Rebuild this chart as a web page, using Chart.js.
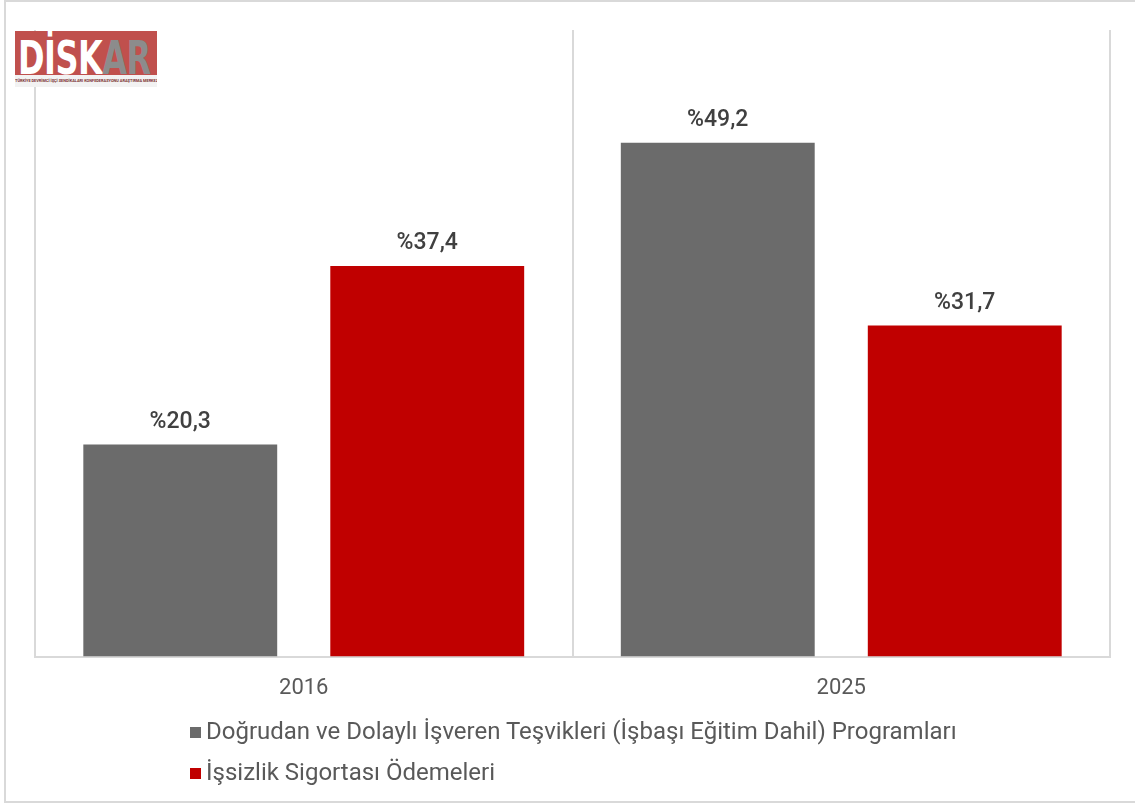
<!DOCTYPE html>
<html>
<head>
<meta charset="utf-8">
<script src="https://cdn.jsdelivr.net/npm/chart.js@4.4.1/dist/chart.umd.min.js"></script>
<style>
  html,body{margin:0;padding:0;background:#fff;}
  body{width:1135px;height:803px;position:relative;overflow:hidden;font-family:Roboto, "DejaVu Sans", sans-serif;}
  #frame{position:absolute;left:4px;top:0;width:1200px;height:799px;border-left:2px solid #d9d9d9;border-top:2px solid #d9d9d9;border-bottom:2px solid #d9d9d9;box-sizing:content-box;}
  #wrap{position:absolute;left:0;top:0;width:1135px;height:803px;}
  #logo{position:absolute;left:15px;top:31px;width:142px;height:56px;}
  #logo .top{height:44px;background:#c0504d;position:relative;overflow:hidden;}
  #logo .txt{position:absolute;left:3px;top:-5px;font-family:"DejaVu Sans", sans-serif;font-weight:bold;font-size:32px;color:#fff;letter-spacing:-0.5px;line-height:44px;transform:scale(1,1.45);transform-origin:left top;}
  #logo .txt span{color:#8c8c8c;}
  #logo .bot{height:12px;background:#f2f2f2;font-size:3.9px;color:#7a3030;line-height:12px;text-align:center;font-weight:bold;white-space:nowrap;overflow:hidden;}
  #legend{position:absolute;left:190px;top:710px;}
  .li{display:flex;align-items:center;height:41px;font-size:24px;color:#595959;}
  .sw{width:11px;height:11px;margin-right:5px;margin-top:3px;}
</style>
</head>
<body>
<div id="frame"></div>
<div id="wrap"><canvas id="c" width="1135" height="803"></canvas></div>
<div id="logo"><div class="top"><div class="txt">DİSK<span>AR</span></div></div><div class="bot">TÜRKİYE DEVRİMCİ İŞÇİ SENDİKALARI KONFEDERASYONU ARAŞTIRMA MERKEZİ</div></div>
<div id="legend"></div>
<script>
const categories = ["2016", "2025"];
const seriesNames = ["Doğrudan ve Dolaylı İşveren Teşvikleri (İşbaşı Eğitim Dahil) Programları", "İşsizlik Sigortası Ödemeleri"];
const tesvikValues = [20.3, 49.2];
const sigortaValues = [37.4, 31.7];
const seriesColors = ["#6b6b6b", "#c00000"];

const labelPlugin = {
  id: 'valueLabels',
  afterDatasetsDraw(chart) {
    const ctx = chart.ctx;
    ctx.save();
    ctx.font = '500 23px Roboto, sans-serif';
    ctx.fillStyle = '#404040';
    ctx.textAlign = 'center';
    ctx.textBaseline = 'alphabetic';
    chart.data.datasets.forEach((ds, i) => {
      chart.getDatasetMeta(i).data.forEach((bar, j) => {
        const v = ds.data[j];
        ctx.fillText('%' + v.toFixed(1).replace('.', ','), bar.x, bar.y - 17);
      });
    });
    ctx.restore();
  }
};

const chart = new Chart(document.getElementById('c'), {
  type: 'bar',
  data: {
    labels: categories,
    datasets: [
      { label: seriesNames[0], data: tesvikValues, backgroundColor: seriesColors[0] },
      { label: seriesNames[1], data: sigortaValues, backgroundColor: seriesColors[1] }
    ]
  },
  options: {
    responsive: false,
    animation: false,
    devicePixelRatio: 1,
    categoryPercentage: 0.919,
    barPercentage: 0.785,
    layout: { padding: { left: 35, right: 25, top: 30, bottom: 82 } },
    plugins: { legend: { display: false }, tooltip: { enabled: false } },
    scales: {
      x: {
        offset: true,
        grid: { offset: true, color: '#d9d9d9', lineWidth: 2, drawTicks: false },
        border: { color: '#d9d9d9', width: 2 },
        ticks: { color: '#595959', font: { size: 22, family: 'Roboto, sans-serif' }, padding: 19 }
      },
      y: { display: false, min: 0, max: 60 }
    }
  },
  plugins: [labelPlugin]
});

const leg = document.getElementById('legend');
chart.data.datasets.forEach(ds => {
  const row = document.createElement('div');
  row.className = 'li';
  const sw = document.createElement('div');
  sw.className = 'sw';
  sw.style.background = ds.backgroundColor;
  const t = document.createElement('span');
  t.textContent = ds.label;
  row.appendChild(sw); row.appendChild(t);
  leg.appendChild(row);
});
</script>
</body>
</html>
